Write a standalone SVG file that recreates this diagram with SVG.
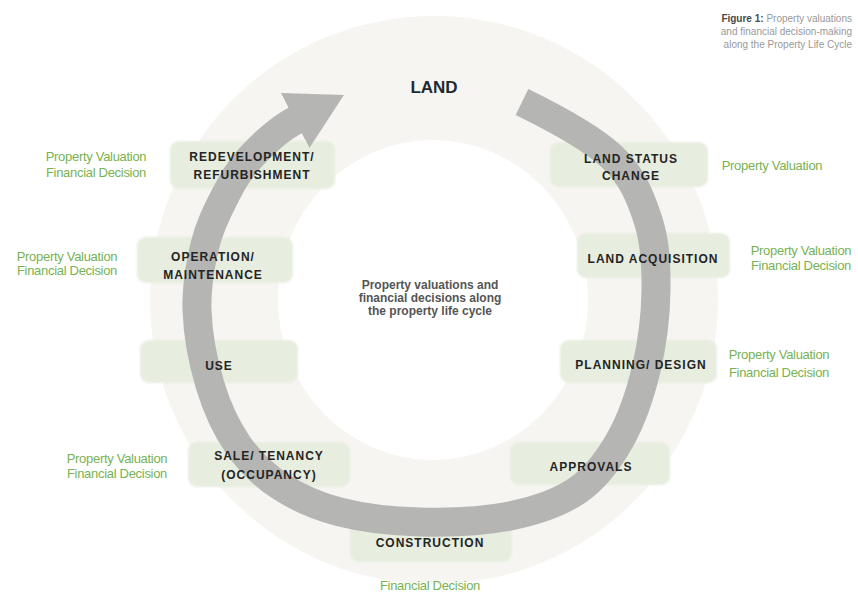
<svg xmlns="http://www.w3.org/2000/svg" width="858" height="593" viewBox="0 0 858 593">
<defs>
<style>
.box{fill:#e7eddf;}
.lbl{font-family:"Liberation Sans",Arial,sans-serif;font-size:12px;font-weight:bold;letter-spacing:1px;fill:#242424;text-anchor:middle}
.grn{font-family:"Liberation Sans",Arial,sans-serif;font-size:13px;fill:#78b252;text-anchor:middle;letter-spacing:-0.3px}
.cap{font-family:"Liberation Sans",Arial,sans-serif;font-size:10px;fill:#999999;text-anchor:end}
.ctr{font-family:"Liberation Sans",Arial,sans-serif;font-size:12px;font-weight:bold;fill:#555555;text-anchor:middle}
.band{fill:none;stroke:#b5b5b3;stroke-width:29}
</style>
<filter id="soft" x="-10%" y="-20%" width="120%" height="140%"><feGaussianBlur stdDeviation="1.2"/></filter>
<marker id="head" markerUnits="userSpaceOnUse" viewBox="0 -32 56 64" refX="1" refY="0" markerWidth="56" markerHeight="64" orient="auto"><polygon points="0,-31 55,0 0,31" fill="#b5b5b3"/></marker>
</defs>
<rect width="858" height="593" fill="#ffffff"/>
<g id="background">
<circle cx="434" cy="300" r="284" fill="#f7f5f2"/>
<ellipse cx="433" cy="300" rx="155" ry="160" fill="#ffffff"/>
</g>
<g id="caption">
<text class="cap" x="852" y="22"><tspan font-weight="bold" fill="#4a4a4a">Figure 1:</tspan> Property valuations</text>
<text class="cap" x="852" y="35">and financial decision-making</text>
<text class="cap" x="852" y="48">along the Property Life Cycle</text>
</g>
<g id="boxes" filter="url(#soft)">
<rect class="box" x="170" y="141" width="165" height="48" rx="9"/>
<rect class="box" x="137" y="237" width="156" height="46" rx="9"/>
<rect class="box" x="140" y="340" width="158" height="43" rx="9"/>
<rect class="box" x="188" y="442" width="162" height="45" rx="9"/>
<rect class="box" x="350" y="520" width="162" height="42" rx="9"/>
<rect class="box" x="510" y="442" width="160" height="43" rx="9"/>
<rect class="box" x="560" y="340" width="157" height="43" rx="9"/>
<rect class="box" x="577" y="233" width="153" height="45" rx="9"/>
<rect class="box" x="550" y="142" width="158" height="45" rx="9"/>
</g>
<g id="connectors">
<path class="band" marker-end="url(#head)" d="M522,102 C553.5,117.4 591,137.3 612,157 C633,176.7 640.7,197.8 648,220 C655.3,242.2 656.3,265 656,290 C655.7,315 652,345 646,370 C640,395 631.3,420 620,440 C608.7,460 596.3,477.3 578,490 C559.7,502.7 536.3,510.7 510,516 C483.7,521.3 448.3,522.7 420,522 C391.7,521.3 363.3,518 340,512 C316.7,506 297,497.2 280,486 C263,474.8 249.7,461.8 238,445 C226.3,428.2 216.8,407.5 210,385 C203.2,362.5 197.8,333.3 197,310 C196.2,286.7 200.5,263.7 205,245 C209.5,226.3 216.5,212.5 224,198 C231.5,183.5 238,171 250,158 C262,145 278.3,129.2 296,120"/>
</g>
<g id="land">
<text x="434" y="93" font-family="'Liberation Sans',Arial,sans-serif" font-size="17" font-weight="bold" fill="#1f2a30" text-anchor="middle">LAND</text>
</g>
<g id="center-text">
<text class="ctr" x="430" y="289">Property valuations and</text>
<text class="ctr" x="430" y="302">financial decisions along</text>
<text class="ctr" x="430" y="315">the property life cycle</text>
</g>
<g id="node-redevelopment">
<text class="lbl" x="252" y="161">REDEVELOPMENT/</text>
<text class="lbl" x="252" y="179">REFURBISHMENT</text>
<text class="grn" x="96" y="161">Property Valuation</text>
<text class="grn" x="96" y="177">Financial Decision</text>
</g>
<g id="node-operation">
<text class="lbl" x="213" y="261">OPERATION/</text>
<text class="lbl" x="213" y="279">MAINTENANCE</text>
<text class="grn" x="67" y="261">Property Valuation</text>
<text class="grn" x="67" y="275">Financial Decision</text>
</g>
<g id="node-use">
<text class="lbl" x="219" y="370">USE</text>
</g>
<g id="node-sale">
<text class="lbl" x="269" y="460">SALE/ TENANCY</text>
<text class="lbl" x="269" y="479">(OCCUPANCY)</text>
<text class="grn" x="117" y="463">Property Valuation</text>
<text class="grn" x="117" y="478">Financial Decision</text>
</g>
<g id="node-construction">
<text class="lbl" x="430" y="547">CONSTRUCTION</text>
<text class="grn" x="430" y="590">Financial Decision</text>
</g>
<g id="node-approvals">
<text class="lbl" x="591" y="471">APPROVALS</text>
</g>
<g id="node-planning">
<text class="lbl" x="641" y="369">PLANNING/ DESIGN</text>
<text class="grn" x="779" y="359">Property Valuation</text>
<text class="grn" x="779" y="377">Financial Decision</text>
</g>
<g id="node-land-acquisition">
<text class="lbl" x="653" y="262.5">LAND ACQUISITION</text>
<text class="grn" x="801" y="255">Property Valuation</text>
<text class="grn" x="801" y="269.5">Financial Decision</text>
</g>
<g id="node-land-status">
<text class="lbl" x="631" y="162.5">LAND STATUS</text>
<text class="lbl" x="631" y="180">CHANGE</text>
<text class="grn" x="772" y="169.5">Property Valuation</text>
</g>
</svg>
